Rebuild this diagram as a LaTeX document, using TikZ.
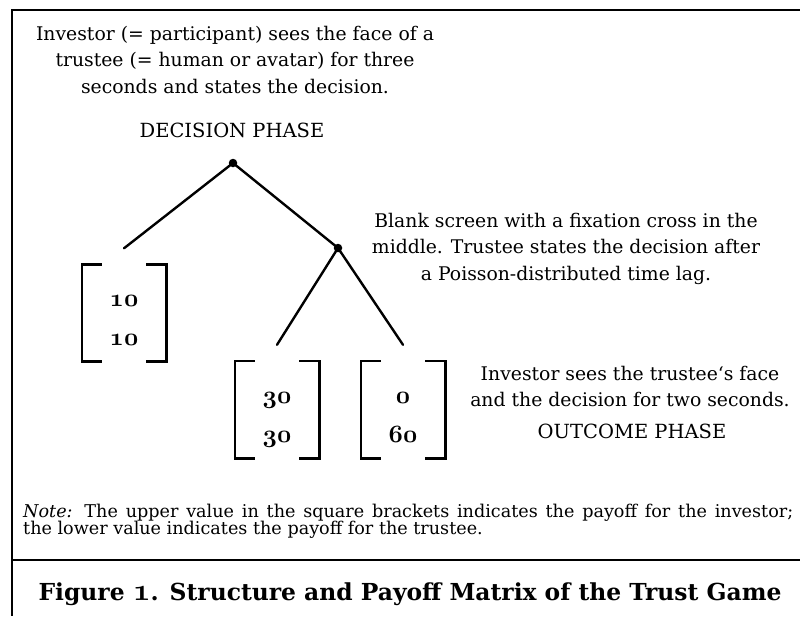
\documentclass[tikz,border=0pt]{standalone}
\usepackage{fontspec}
\setmainfont{DejaVu Serif}
\newcommand{\osfnum}[1]{{\usefont{OML}{cmm}{b}{it}#1}}
\begin{document}
\begin{tikzpicture}[x=1pt,y=-1pt,
  txt/.style={font=\fontsize{18.8}{26.5}\selectfont, align=center, inner sep=0pt, anchor=base},
  dot/.style={circle, fill=black, inner sep=0pt, minimum size=8.5pt},
  branch/.style={line width=2.4pt, line cap=round},
  payoff/.style={minimum width=84pt, minimum height=97pt, inner sep=0pt},
  num/.style={font=\fontsize{24.88}{25}\selectfont, inner sep=0pt, anchor=base},
  bracket/.style={line width=2.6pt, line join=miter}]
\useasboundingbox (0,0) rectangle (800,616);
% frame
\draw[line width=2.2pt] (11.8,10) -- (800,10);
\draw[line width=1.7pt] (11.8,9) -- (11.8,616);
\draw[line width=1.4pt] (11.8,560) -- (800,560);
% texts (base anchor = last line)
\node[txt] (tinv) at (235,93) {Investor (= participant) sees the face of a\\trustee (= human or avatar) for three\\seconds and states the decision.};
\node[txt, font=\fontsize{19.5}{26.5}\selectfont] (tdec) at (232,137) {DECISION PHASE};
\node[txt] (tblank) at (566,280) {Blank screen with a fixation cross in the\\middle. Trustee states the decision after\\a Poisson-distributed time lag.};
\node[txt] (tout) at (630,406.5) {Investor sees the trustee‘s face\\and the decision for two seconds.};
\node[txt, font=\fontsize{19.5}{26.5}\selectfont] (toutp) at (632,438) {OUTCOME PHASE};
\node[font=\fontsize{17.6}{17.5}\selectfont, text width=770pt, align=justify, inner sep=0pt, anchor=base west] (note) at (23,517) {\textit{Note:} The upper value in the square brackets indicates the payoff for the investor;\linebreak the lower value indicates the payoff for the trustee.};
\node[font=\fontsize{23.4}{26}\selectfont\bfseries, inner sep=0pt, anchor=base] (title) at (410,600) {Figure \scalebox{1.25}{\osfnum{1}}. Structure and Payoff Matrix of the Trust Game};
% tree
\node[dot] (d1) at (233,163) {};
\node[dot] (d2) at (338,248) {};
\node[payoff] (b1) at (124,313) {};
\node[payoff] (b2) at (277,409.5) {};
\node[payoff] (b3) at (403,409.5) {};
\foreach \b in {b1,b2,b3} {
  \draw[bracket] ([xshift=20pt]\b.north west) -- (\b.north west) -- (\b.south west) -- ([xshift=20pt]\b.south west);
  \draw[bracket] ([xshift=-20pt]\b.north east) -- (\b.north east) -- (\b.south east) -- ([xshift=-20pt]\b.south east);
}
\draw[branch] (d1.center) -- ([yshift=16pt]b1.north);
\draw[branch] (d1.center) -- (d2.center);
\draw[branch] (d2.center) -- ([yshift=16pt]b2.north);
\draw[branch] (d2.center) -- ([yshift=16pt]b3.north);
% payoffs
\node[num] (p1a) at (124,306) {\osfnum{10}};
\node[num] (p1b) at (124,345) {\osfnum{10}};
\node[num] (p2a) at (277,403) {\osfnum{30}};
\node[num] (p2b) at (277,442) {\osfnum{30}};
\node[num] (p3a) at (403,403) {\osfnum{0}};
\node[num] (p3b) at (403,442) {\osfnum{60}};
\end{tikzpicture}
\end{document}
